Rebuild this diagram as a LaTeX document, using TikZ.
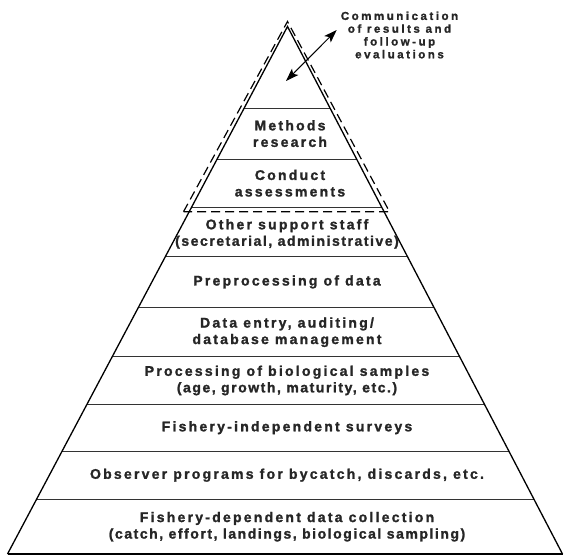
\documentclass[tikz,border=0pt]{standalone}
\usepackage{fontspec}
\usetikzlibrary{arrows.meta,calc}
\newfontfamily\labfont{Liberation Sans Bold}[LetterSpace=16,FakeBold=1.5]
\newfontfamily\subfont{Liberation Sans Bold}[LetterSpace=11,FakeBold=1.5]
\newfontfamily\notefont{Liberation Sans Bold}[LetterSpace=22,FakeBold=1.5]
\newcommand{\paren}[1]{{\subfont\fontsize{14}{16.5}\selectfont #1}}
\begin{document}
\begin{tikzpicture}[x=1pt,y=-1pt,
  lvl/.style={font=\labfont\fontsize{14}{16.5}\selectfont, text=black!85, align=center, inner sep=0pt},
  note/.style={font=\notefont\fontsize{11.5}{12.8}\selectfont, text=black!85, align=center, inner sep=0pt},
  edge/.style={line width=1.3pt, black},
  sep/.style={line width=0.9pt, black!80},
  dashbox/.style={line width=1.2pt, black, dash pattern=on 9pt off 5pt},
  twoway/.style={line width=1pt, black, {Stealth[length=13pt,width=9pt,inset=3pt]}-{Stealth[length=13pt,width=9pt,inset=3pt]}}
]
\useasboundingbox (0,0) rectangle (564,556);
\coordinate (A) at (287.5,26.5);
\coordinate (L) at (7.5,554);
\coordinate (R) at (562.5,554);
% separators
\foreach \yy/\nm in {108.3/s1,159/s2,207.3/s3,256/s4,307.7/s5,356.7/s6,404.3/s7,451/s8,499.3/s9}{
  \coordinate (\nm l) at ($(A)!{(\yy-26.5)/527.5}!(L)$);
  \coordinate (\nm r) at ($(A)!{(\yy-26.5)/527.5}!(R)$);
  \draw[sep] (\nm l) -- (\nm r);
}
% pyramid outline
\draw[edge] (L) -- (A) -- (R);
\draw[line width=1.7pt] (L) -- (R);
% dashed top group
\coordinate (DA) at (287.5,21.5);
\coordinate (DL) at (183.5,211.7);
\coordinate (DR) at (389.5,211.7);
\draw[dashbox] (DL) -- (DA) -- (DR) -- cycle;
% labels
\node[lvl] (methods) at (290,133.6) {Methods\\research};
\node[lvl] (conduct) at (290,183.2) {Conduct\\assessments};
\node[lvl] (support) at (287,233.9) {Other support staff\\\paren{(secretarial, administrative)}};
\node[lvl] (prep) at (287,281.9) {Preprocessing of data};
\node[lvl] (entry) at (287,332.2) {Data entry, auditing/\\database management};
\node[lvl] (bio) at (287,380.5) {Processing of biological samples\\\paren{(age, growth, maturity, etc.)}};
\node[lvl] (indep) at (287,427.7) {Fishery-independent surveys};
\node[lvl] (obs) at (287,475.2) {Observer programs for bycatch, discards, etc.};
\node[lvl] (dep) at (287,526.7) {Fishery-dependent data collection\\\paren{(catch, effort, landings, biological sampling)}};
% communication
\node[note] (comm) at (399.5,35) {Communication\\of results and\\follow-up\\evaluations};
\coordinate (ain) at (286,81);
\coordinate (aout) at (336.7,30);
\draw[twoway] (ain) -- (aout);
\end{tikzpicture}
\end{document}
